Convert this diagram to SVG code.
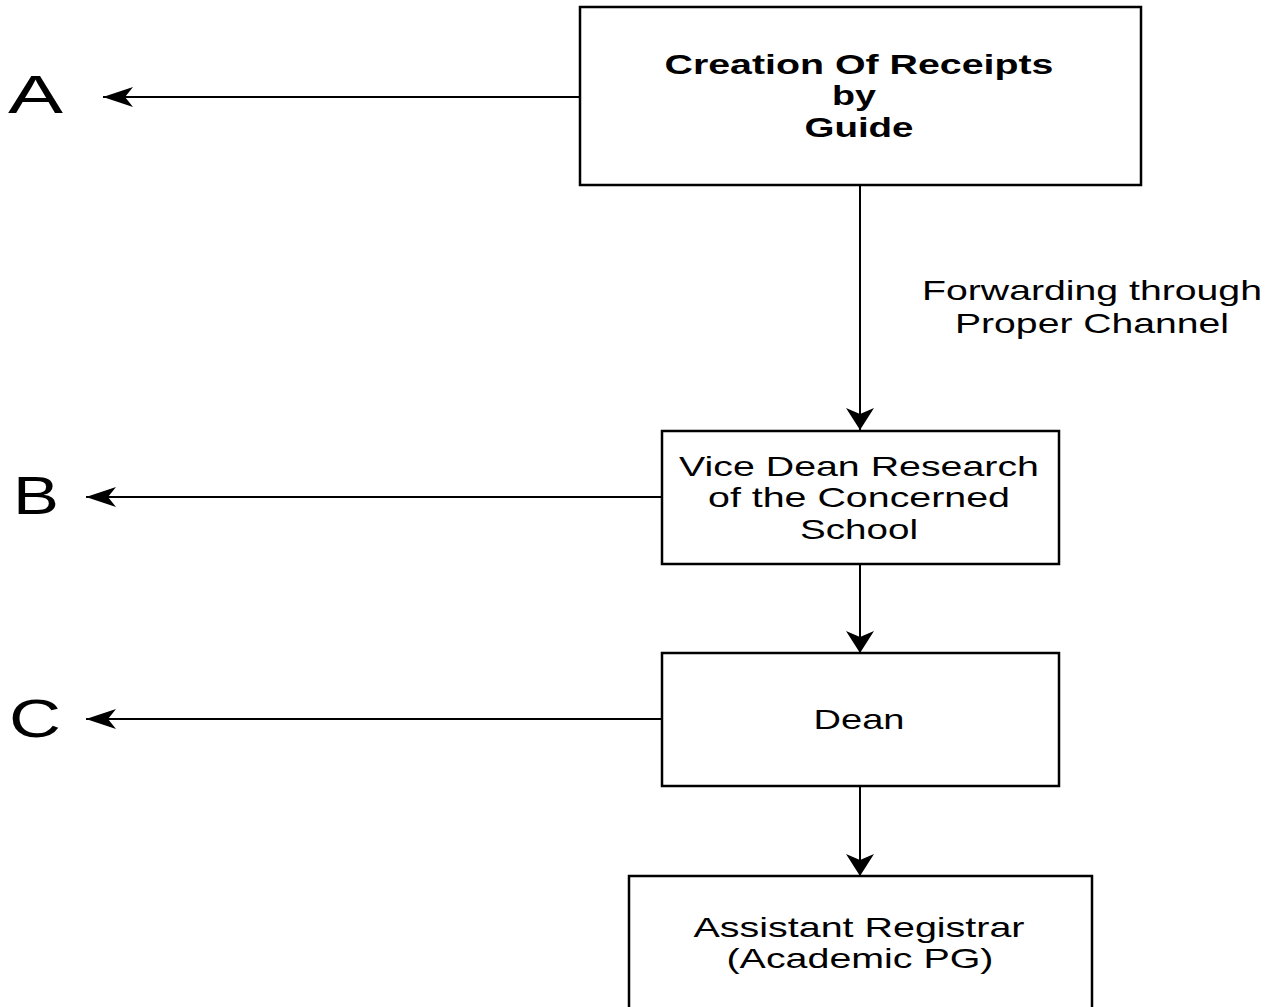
<svg xmlns="http://www.w3.org/2000/svg" width="1278" height="1007" viewBox="0 0 1278 1007">
<defs>
<style>
.box{fill:#fff;stroke:#000;stroke-width:2.5}
.ln{fill:none;stroke:#000;stroke-width:2}
.t{font-family:"Liberation Sans",Arial,sans-serif;font-size:28px;fill:#000;text-anchor:middle}
.b{font-weight:bold}
.big{font-family:"Liberation Sans",Arial,sans-serif;font-size:53px;fill:#000}
</style>
<marker id="ah" viewBox="0 0 30 20" refX="30" refY="10" markerWidth="30" markerHeight="20" markerUnits="userSpaceOnUse" orient="auto">
<path d="M0,0 L30,10 L0,20 L8,10 Z" fill="#000"/>
</marker>
<marker id="av" viewBox="0 0 22 28" refX="22" refY="14" markerWidth="22" markerHeight="28" markerUnits="userSpaceOnUse" orient="auto">
<path d="M0,0 L22,14 L0,28 L6,14 Z" fill="#000"/>
</marker>
</defs>
<rect width="1278" height="1007" fill="#fff"/>
<g id="connectors">
<line class="ln" x1="580" y1="97" x2="103" y2="97" marker-end="url(#ah)"/>
<line class="ln" x1="662" y1="497" x2="86" y2="497" marker-end="url(#ah)"/>
<line class="ln" x1="662" y1="719" x2="86" y2="719" marker-end="url(#ah)"/>
<line class="ln" x1="860" y1="185" x2="860" y2="430" marker-end="url(#av)"/>
<line class="ln" x1="860" y1="564" x2="860" y2="653" marker-end="url(#av)"/>
<line class="ln" x1="860" y1="786" x2="860" y2="876" marker-end="url(#av)"/>
<text class="t" x="1092" y="300" textLength="340" lengthAdjust="spacingAndGlyphs">Forwarding through</text>
<text class="t" x="1092" y="333" textLength="274" lengthAdjust="spacingAndGlyphs">Proper Channel</text>
</g>
<g id="labelA"><text class="big" x="8" y="113" textLength="55" lengthAdjust="spacingAndGlyphs">A</text></g>
<g id="labelB"><text class="big" x="13" y="514" textLength="46" lengthAdjust="spacingAndGlyphs">B</text></g>
<g id="labelC"><text class="big" x="9" y="737" textLength="52" lengthAdjust="spacingAndGlyphs">C</text></g>
<g id="guide">
<rect class="box" x="580" y="7" width="561" height="178"/>
<text class="t b" x="859" y="74" textLength="389" lengthAdjust="spacingAndGlyphs">Creation Of Receipts</text>
<text class="t b" x="854" y="105" textLength="44" lengthAdjust="spacingAndGlyphs">by</text>
<text class="t b" x="859" y="137" textLength="109" lengthAdjust="spacingAndGlyphs">Guide</text>
</g>
<g id="vicedean">
<rect class="box" x="662" y="431" width="397" height="133"/>
<text class="t" x="859" y="476" textLength="360" lengthAdjust="spacingAndGlyphs">Vice Dean Research</text>
<text class="t" x="859" y="507" textLength="302" lengthAdjust="spacingAndGlyphs">of the Concerned</text>
<text class="t" x="859" y="539" textLength="118" lengthAdjust="spacingAndGlyphs">School</text>
</g>
<g id="dean">
<rect class="box" x="662" y="653" width="397" height="133"/>
<text class="t" x="859" y="729" textLength="91" lengthAdjust="spacingAndGlyphs">Dean</text>
</g>
<g id="registrar">
<rect class="box" x="629" y="876" width="463" height="140"/>
<text class="t" x="859" y="937" textLength="331" lengthAdjust="spacingAndGlyphs">Assistant Registrar</text>
<text class="t" x="860" y="968" textLength="267" lengthAdjust="spacingAndGlyphs">(Academic PG)</text>
</g>
</svg>
